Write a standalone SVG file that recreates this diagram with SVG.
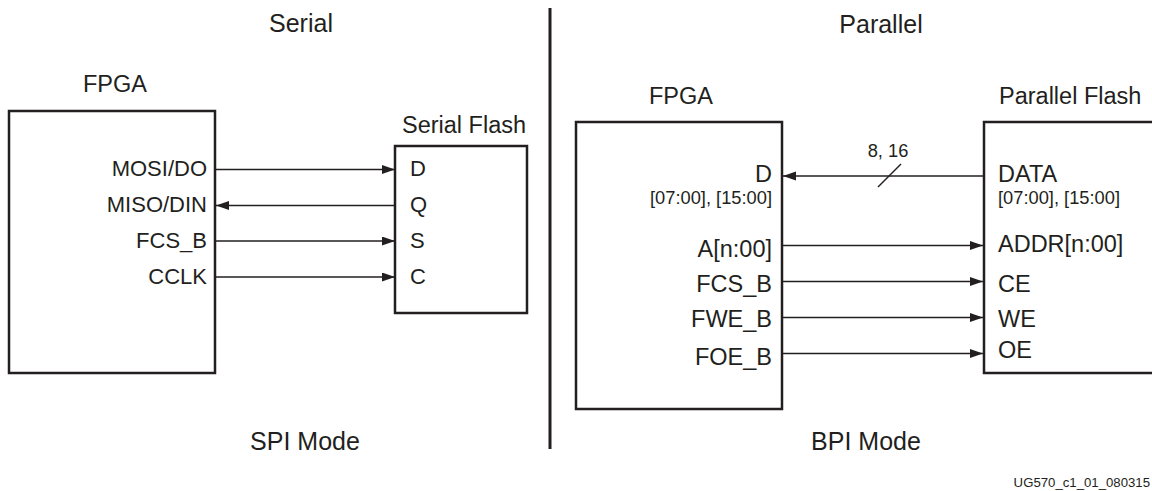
<svg xmlns="http://www.w3.org/2000/svg" width="1152" height="491" viewBox="0 0 1152 491">
  <style>
    text { font-family: "Liberation Sans", Arial, Helvetica, sans-serif; fill: #231f20; }
    .title { font-size: 25px; }
    .lbl { font-size: 23.5px; }
    .spin { font-size: 22px; }
    .ppin { font-size: 23.5px; }
    .small { font-size: 18.3px; }
    .id { font-size: 13.2px; }
    .box { fill: #ffffff; stroke: #231f20; stroke-width: 2.5; }
    .wire { stroke: #231f20; stroke-width: 1.5; fill: none; }
    .end { text-anchor: end; }
    .mid { text-anchor: middle; }
  </style>
  <defs>
    <marker id="arrow" markerUnits="userSpaceOnUse" markerWidth="14" markerHeight="10" refX="13" refY="4.5" orient="auto">
      <path d="M0,0 L13,4.5 L0,9 Z" fill="#231f20"/>
    </marker>
  </defs>
  <rect width="1152" height="491" fill="#ffffff"/>

  <!-- section titles -->
  <text class="title mid" x="301" y="32">Serial</text>
  <text class="title mid" x="881" y="33">Parallel</text>
  <text class="title mid" x="305" y="450">SPI Mode</text>
  <text class="title mid" x="866" y="450">BPI Mode</text>
  <line x1="550" y1="8" x2="550" y2="449" stroke="#231f20" stroke-width="3"/>
  <text class="id end" x="1150" y="487">UG570_c1_01_080315</text>

  <!-- Serial FPGA -->
  <g id="serial-fpga">
    <text class="lbl mid" x="115" y="92">FPGA</text>
    <rect class="box" x="9" y="111" width="206" height="262"/>
    <text class="spin end" x="207" y="176">MOSI/DO</text>
    <text class="spin end" x="207" y="212">MISO/DIN</text>
    <text class="spin end" x="207" y="248">FCS_B</text>
    <text class="spin end" x="207" y="284">CCLK</text>
  </g>

  <!-- Serial Flash -->
  <g id="serial-flash">
    <text class="lbl mid" x="464" y="133">Serial Flash</text>
    <rect class="box" x="395" y="146" width="132" height="167"/>
    <text class="spin" x="410" y="176">D</text>
    <text class="spin" x="410" y="212">Q</text>
    <text class="spin" x="410" y="248">S</text>
    <text class="spin" x="410" y="284">C</text>
  </g>

  <!-- Parallel FPGA -->
  <g id="parallel-fpga">
    <text class="lbl mid" x="681" y="104">FPGA</text>
    <rect class="box" x="576" y="122" width="206" height="287"/>
    <text class="ppin end" x="772" y="182">D</text>
    <text class="small end" x="772" y="204">[07:00], [15:00]</text>
    <text class="ppin end" x="772" y="257">A[n:00]</text>
    <text class="ppin end" x="772" y="292">FCS_B</text>
    <text class="ppin end" x="772" y="327">FWE_B</text>
    <text class="ppin end" x="772" y="365">FOE_B</text>
  </g>

  <!-- Parallel Flash -->
  <g id="parallel-flash">
    <text class="lbl" x="999" y="104">Parallel Flash</text>
    <rect class="box" x="984" y="122" width="180" height="251"/>
    <text class="ppin" x="998" y="182">DATA</text>
    <text class="small" x="998" y="204">[07:00], [15:00]</text>
    <text class="ppin" x="998" y="252">ADDR[n:00]</text>
    <text class="ppin" x="998" y="292">CE</text>
    <text class="ppin" x="998" y="327">WE</text>
    <text class="ppin" x="998" y="358">OE</text>
  </g>

  <!-- connectors -->
  <g id="connectors">
    <line class="wire" x1="216" y1="169.5" x2="395" y2="169.5" marker-end="url(#arrow)"/>
    <line class="wire" x1="395" y1="205.5" x2="216" y2="205.5" marker-end="url(#arrow)"/>
    <line class="wire" x1="216" y1="241" x2="395" y2="241" marker-end="url(#arrow)"/>
    <line class="wire" x1="216" y1="277" x2="395" y2="277" marker-end="url(#arrow)"/>

    <line class="wire" x1="983" y1="176" x2="783" y2="176" marker-end="url(#arrow)"/>
    <line class="wire" x1="878" y1="187" x2="901" y2="164"/>
    <text class="small mid" x="888" y="157">8, 16</text>
    <line class="wire" x1="783" y1="245.5" x2="983" y2="245.5" marker-end="url(#arrow)"/>
    <line class="wire" x1="783" y1="281.5" x2="983" y2="281.5" marker-end="url(#arrow)"/>
    <line class="wire" x1="783" y1="317.5" x2="983" y2="317.5" marker-end="url(#arrow)"/>
    <line class="wire" x1="783" y1="353.5" x2="983" y2="353.5" marker-end="url(#arrow)"/>
  </g>
</svg>
